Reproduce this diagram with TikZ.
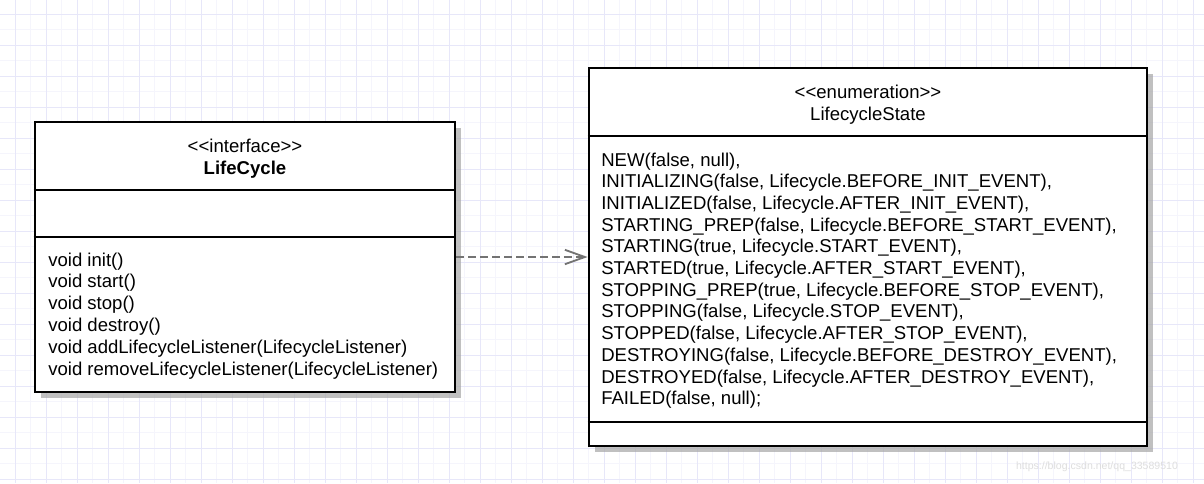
\documentclass[tikz,border=0pt]{standalone}
\usepackage{fontspec}
\setmainfont{Liberation Sans}
\usetikzlibrary{arrows.meta, positioning, shadows}
\definecolor{gridmajor}{RGB}{231,231,249}
\definecolor{gridminor}{RGB}{245,245,252}
\newcommand{\umlstereo}[1]{<\kern0pt<#1>\kern0pt>}

\begin{document}
\begin{tikzpicture}[
    x=0.025cm, y=-0.025cm,
    every node/.style={font=\fontsize{13.2}{15.4}\selectfont, inner sep=0pt},
    umlbox/.style={rectangle, draw=black, line width=1.9pt, fill=white,
                   drop shadow={shadow xshift=0.14cm, shadow yshift=-0.14cm, fill=black!35, opacity=0.7}},
    sep/.style={black, line width=1.9pt},
    member/.style={anchor=base west},
    realize/.style={draw=black!55, line width=1.3pt, dash pattern=on 5.5pt off 3pt,
                    -{Straight Barb[length=0.5cm, width=0.36cm, line width=1.3pt]}}
  ]
    \useasboundingbox[fill=white] (0,0) rectangle (1204,483);
    % grid paper
    \foreach \i in {0,...,38} {\draw[gridminor, line width=0.4pt] (30.5+31*\i,0) -- (30.5+31*\i,483);}
    \foreach \j in {0,...,15} {\draw[gridminor, line width=0.4pt] (0,29.5+31*\j) -- (1204,29.5+31*\j);}
    \foreach \i in {0,...,38} {\draw[gridmajor, line width=0.7pt] (15+31*\i,0) -- (15+31*\i,483);}
    \foreach \j in {0,...,15} {\draw[gridmajor, line width=0.7pt] (0,14+31*\j) -- (1204,14+31*\j);}

    % LifeCycle interface
    \node[umlbox, minimum width=10.5cm, minimum height=6.75cm] (lc) at (245,257) {};
    \draw[sep] (lc.west |- 0,190) -- (lc.east |- 0,190);
    \draw[sep] (lc.west |- 0,237) -- (lc.east |- 0,237);
    \node[anchor=base] (lcstereo) at (245,152) {\umlstereo{interface}};
    \node[anchor=base, font=\fontsize{13.2}{15.4}\selectfont\bfseries] (lcname) at (245,174) {LifeCycle};
    \foreach \op [count=\k] in {void init(), void start(), void stop(), void destroy(),
        void addLifecycleListener(LifecycleListener),
        void removeLifecycleListener(LifecycleListener)}
      {\node[member] (lcop\k) at (48,266+21.8*\k-21.8) {\op};}

    % LifecycleState enumeration
    \node[umlbox, minimum width=13.95cm, minimum height=9.45cm] (ls) at (868,257) {};
    \draw[sep] (ls.west |- 0,136) -- (ls.east |- 0,136);
    \draw[sep] (ls.west |- 0,422) -- (ls.east |- 0,422);
    \node[anchor=base] (lsstereo) at (868,98) {\umlstereo{enumeration}};
    \node[anchor=base] (lsname) at (868,120) {LifecycleState};
    \foreach \lit [count=\k] in {{NEW(false, null),},
        {INITIALIZING(false, Lifecycle.BEFORE\_INIT\_EVENT),},
        {INITIALIZED(false, Lifecycle.AFTER\_INIT\_EVENT),},
        {STARTING\_PREP(false, Lifecycle.BEFORE\_START\_EVENT),},
        {STARTING(true, Lifecycle.START\_EVENT),},
        {STARTED(true, Lifecycle.AFTER\_START\_EVENT),},
        {STOPPING\_PREP(true, Lifecycle.BEFORE\_STOP\_EVENT),},
        {STOPPING(false, Lifecycle.STOP\_EVENT),},
        {STOPPED(false, Lifecycle.AFTER\_STOP\_EVENT),},
        {DESTROYING(false, Lifecycle.BEFORE\_DESTROY\_EVENT),},
        {DESTROYED(false, Lifecycle.AFTER\_DESTROY\_EVENT),},
        {FAILED(false, null);}}
      {\node[member] (lslit\k) at (601,166+21.7*\k-21.7) {\lit};}

    % dependency
    \draw[realize] (lc) -- (ls);

    % watermark
    \node[font=\fontsize{7.5}{9}\selectfont, text=black!13] (wm) at (1097,467) {https://blog.csdn.net/qq\_33589510};
  \end{tikzpicture}
\end{document}
